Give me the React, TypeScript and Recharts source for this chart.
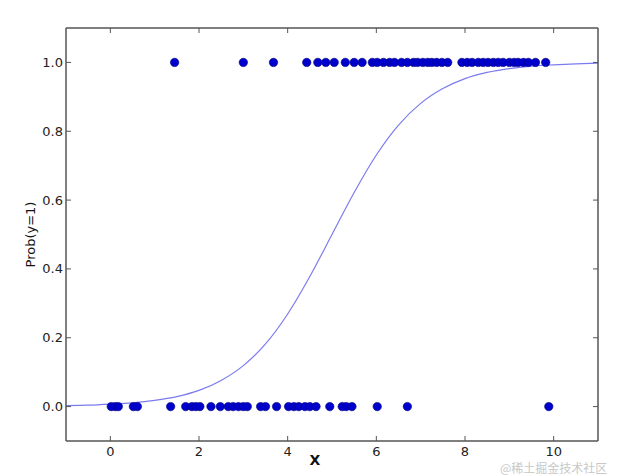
import React from 'react';
import { ComposedChart, Scatter, Line, XAxis, YAxis, Label } from 'recharts';

const xTicks = [0, 2, 4, 6, 8, 10];
const yTicks = [0, 0.2, 0.4, 0.6, 0.8, 1.0];

const posX = [1.45, 3.0, 3.68, 4.43, 4.68, 4.86, 5.05, 5.3, 5.5, 5.68, 5.91, 6.02, 6.16, 6.3, 6.41, 6.57, 6.7, 6.84, 6.93, 7.05, 7.16, 7.25, 7.36, 7.48, 7.61, 7.93, 8.05, 8.16, 8.3, 8.41, 8.52, 8.64, 8.75, 8.86, 9.0, 9.11, 9.2, 9.32, 9.43, 9.59, 9.82];
const negX = [0.02, 0.11, 0.18, 0.52, 0.61, 1.36, 1.7, 1.84, 1.93, 2.02, 2.27, 2.48, 2.66, 2.77, 2.89, 3.0, 3.09, 3.39, 3.5, 3.75, 4.02, 4.14, 4.25, 4.39, 4.5, 4.64, 4.95, 5.23, 5.32, 5.45, 6.02, 6.7, 9.89];

const curveX = [-1, -0.5, 0, 0.5, 1, 1.5, 2, 2.5, 3, 3.5, 4, 4.5, 5, 5.5, 6, 6.5, 7, 7.5, 8, 8.5, 9, 9.5, 10, 10.5, 11];
const curveY = [0.003, 0.004, 0.007, 0.011, 0.018, 0.029, 0.047, 0.076, 0.119, 0.182, 0.269, 0.378, 0.5, 0.622, 0.731, 0.818, 0.881, 0.924, 0.953, 0.971, 0.982, 0.989, 0.993, 0.996, 0.998];

const pointData = [
  ...posX.map((x) => ({ x, y: 1 })),
  ...negX.map((x) => ({ x, y: 0 })),
];
const curveData = curveX.map((x, i) => ({ x, y: curveY[i] }));

const FONT = '"DejaVu Sans", sans-serif';
const AXIS = '#555555';
const TICKLEN = 5;

const Dot = (props: any) => (
  <circle cx={props.cx} cy={props.cy} r={4.2} fill="#0000cc" stroke="#000080" strokeWidth={0.6} />
);

const BottomTick = (props: any) => {
  const { x, y, payload } = props;
  return (
    <g>
      <line x1={x} x2={x} y1={y} y2={y - TICKLEN} stroke={AXIS} strokeWidth={1} />
      <text x={x} y={y + 15} textAnchor="middle" fontSize={13} fontFamily={FONT} fill="#222">
        {String(payload.value)}
      </text>
    </g>
  );
};

const TopTick = (props: any) => {
  const { x, y } = props;
  return <line x1={x} x2={x} y1={y} y2={y + TICKLEN} stroke={AXIS} strokeWidth={1} />;
};

const LeftTick = (props: any) => {
  const { x, y, payload } = props;
  return (
    <g>
      <line x1={x} x2={x + TICKLEN} y1={y} y2={y} stroke={AXIS} strokeWidth={1} />
      <text x={x - 3} y={y + 4.5} textAnchor="end" fontSize={13} fontFamily={FONT} fill="#222">
        {Number(payload.value).toFixed(1)}
      </text>
    </g>
  );
};

const RightTick = (props: any) => {
  const { x, y } = props;
  return <line x1={x} x2={x - TICKLEN} y1={y} y2={y} stroke={AXIS} strokeWidth={1} />;
};

export default function App() {
  return (
    <div style={{ position: 'absolute', left: 0, top: 0, width: 617, height: 476, background: '#fff' }}>
      <ComposedChart width={617} height={476} margin={{ top: 27, right: 18, bottom: 0, left: 0 }}>
        <XAxis
          xAxisId="b"
          dataKey="x"
          type="number"
          domain={[-1, 11]}
          ticks={xTicks}
          allowDataOverflow
          height={35}
          tickSize={0}
          tickMargin={0}
          tickLine={false}
          stroke={AXIS}
          strokeWidth={1.5}
          tick={BottomTick}
        >
          <Label value="X" position="center" dx={-17} dy={2} style={{ fontWeight: 'bold', fontSize: 14, fontFamily: FONT, fill: '#111' }} />
        </XAxis>
        <XAxis
          xAxisId="t"
          orientation="top"
          dataKey="x"
          type="number"
          domain={[-1, 11]}
          ticks={xTicks}
          allowDataOverflow
          height={1}
          tickSize={0}
          tickMargin={0}
          tickLine={false}
          tick={TopTick}
          stroke={AXIS}
          strokeWidth={1.5}
        />
        <YAxis
          yAxisId="l"
          type="number"
          domain={[-0.1, 1.1]}
          ticks={yTicks}
          allowDataOverflow
          width={66}
          tickSize={0}
          tickMargin={0}
          tickLine={false}
          stroke={AXIS}
          strokeWidth={1.5}
          tick={LeftTick}
        >
          <Label value="Prob(y=1)" position="center" angle={-90} dx={-3} style={{ fontSize: 13, fontFamily: FONT, fill: '#111' }} />
        </YAxis>
        <YAxis
          yAxisId="r"
          orientation="right"
          type="number"
          domain={[-0.1, 1.1]}
          ticks={yTicks}
          allowDataOverflow
          width={1}
          tickSize={0}
          tickMargin={0}
          tickLine={false}
          tick={RightTick}
          stroke={AXIS}
          strokeWidth={1.5}
        />
        <Line
          xAxisId="b"
          yAxisId="l"
          data={curveData}
          dataKey="y"
          type="monotone"
          stroke="#7b7bf0"
          strokeWidth={1.2}
          dot={false}
          activeDot={false}
          isAnimationActive={false}
        />
        <Scatter
          xAxisId="b"
          yAxisId="l"
          data={pointData}
          dataKey="y"
          shape={Dot}
          isAnimationActive={false}
        />
      </ComposedChart>
      <div
        style={{
          position: 'absolute',
          left: 500,
          top: 461,
          fontSize: 12,
          fontFamily: '"Noto Sans CJK SC", sans-serif',
          color: '#c8c8c8',
          whiteSpace: 'nowrap',
          lineHeight: '14px',
        }}
      >
        @稀土掘金技术社区
      </div>
    </div>
  );
}
